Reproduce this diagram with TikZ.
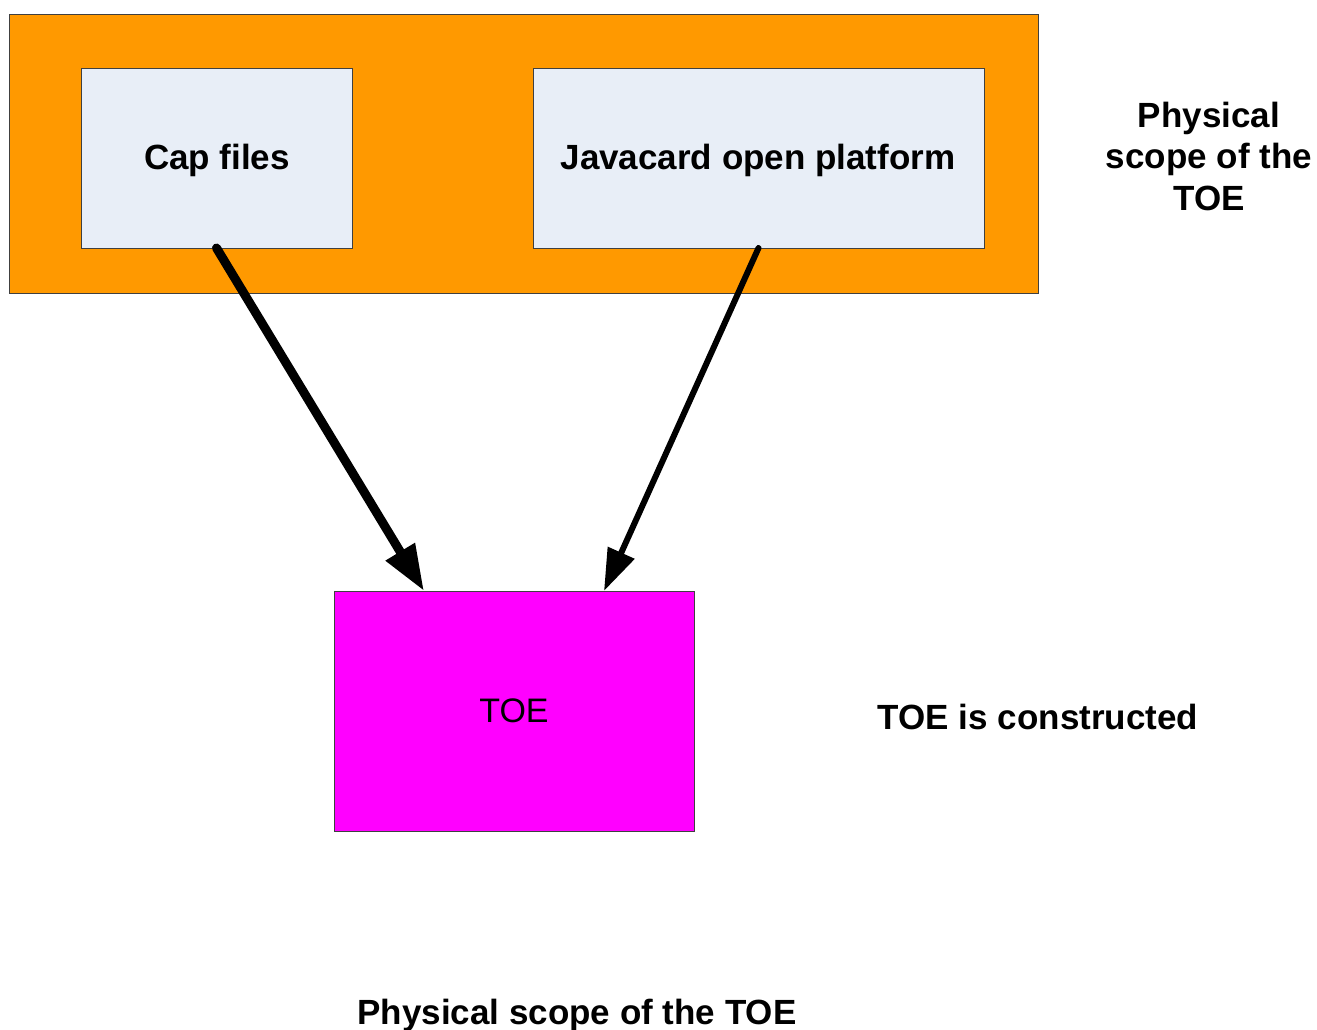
\documentclass[tikz,border=0pt]{standalone}
\usepackage{fontspec}
\setmainfont{Liberation Sans}
\usetikzlibrary{arrows.meta,calc}
\definecolor{orangebg}{HTML}{FF9900}
\definecolor{lightbox}{HTML}{E8EEF7}
\definecolor{magentabox}{HTML}{FF00FF}
\definecolor{edgegray}{HTML}{404040}
\tikzset{
  box/.style={draw=edgegray, line width=0.8pt, inner sep=0pt, outer sep=0pt},
  lbl/.style={font=\fontsize{35}{41.5}\selectfont\bfseries, align=center, inner sep=0pt},
  bigarrow/.style={line cap=round, -{Triangle[length=46pt,width=32pt]}},
}
\begin{document}
\begin{tikzpicture}[x=1pt,y=-1pt]
\useasboundingbox (0,0) rectangle (1317,1030);
\fill[white] (0,0) rectangle (1317,1030);
\node[box, fill=orangebg, minimum width=1029pt, minimum height=279pt] (scope) at (523.5,153.5) {};
\node[box, fill=lightbox, minimum width=271pt, minimum height=180pt] (cap) at (216.5,158) {};
\node[lbl] (captext) at (217,160) {Cap files};
\node[box, fill=lightbox, minimum width=451pt, minimum height=180pt] (java) at (758.5,158) {};
\node[lbl] (javatext) at (758,160) {Javacard open platform};
\node[box, fill=magentabox, minimum width=360pt, minimum height=240pt, font=\fontsize{34}{40}\selectfont] (toe) at (514,711) {TOE};
\node[lbl] (phys) at (1209,156) {Physical\\scope of the\\TOE};
\node[lbl] (cons) at (1038,717) {TOE is constructed};
\node[lbl] (bottom) at (577,1015) {Physical scope of the TOE};
\coordinate (t1) at ($(toe.north west)!0.25!(toe.north east)$);
\coordinate (t2) at ($(toe.north west)!0.75!(toe.north east)$);
\draw[bigarrow, line width=9pt] (cap.south) -- (t1);
\draw[line cap=round, -{Triangle[length=42pt,width=28pt]}, line width=6pt] (java.south) -- (t2);
\end{tikzpicture}
\end{document}
